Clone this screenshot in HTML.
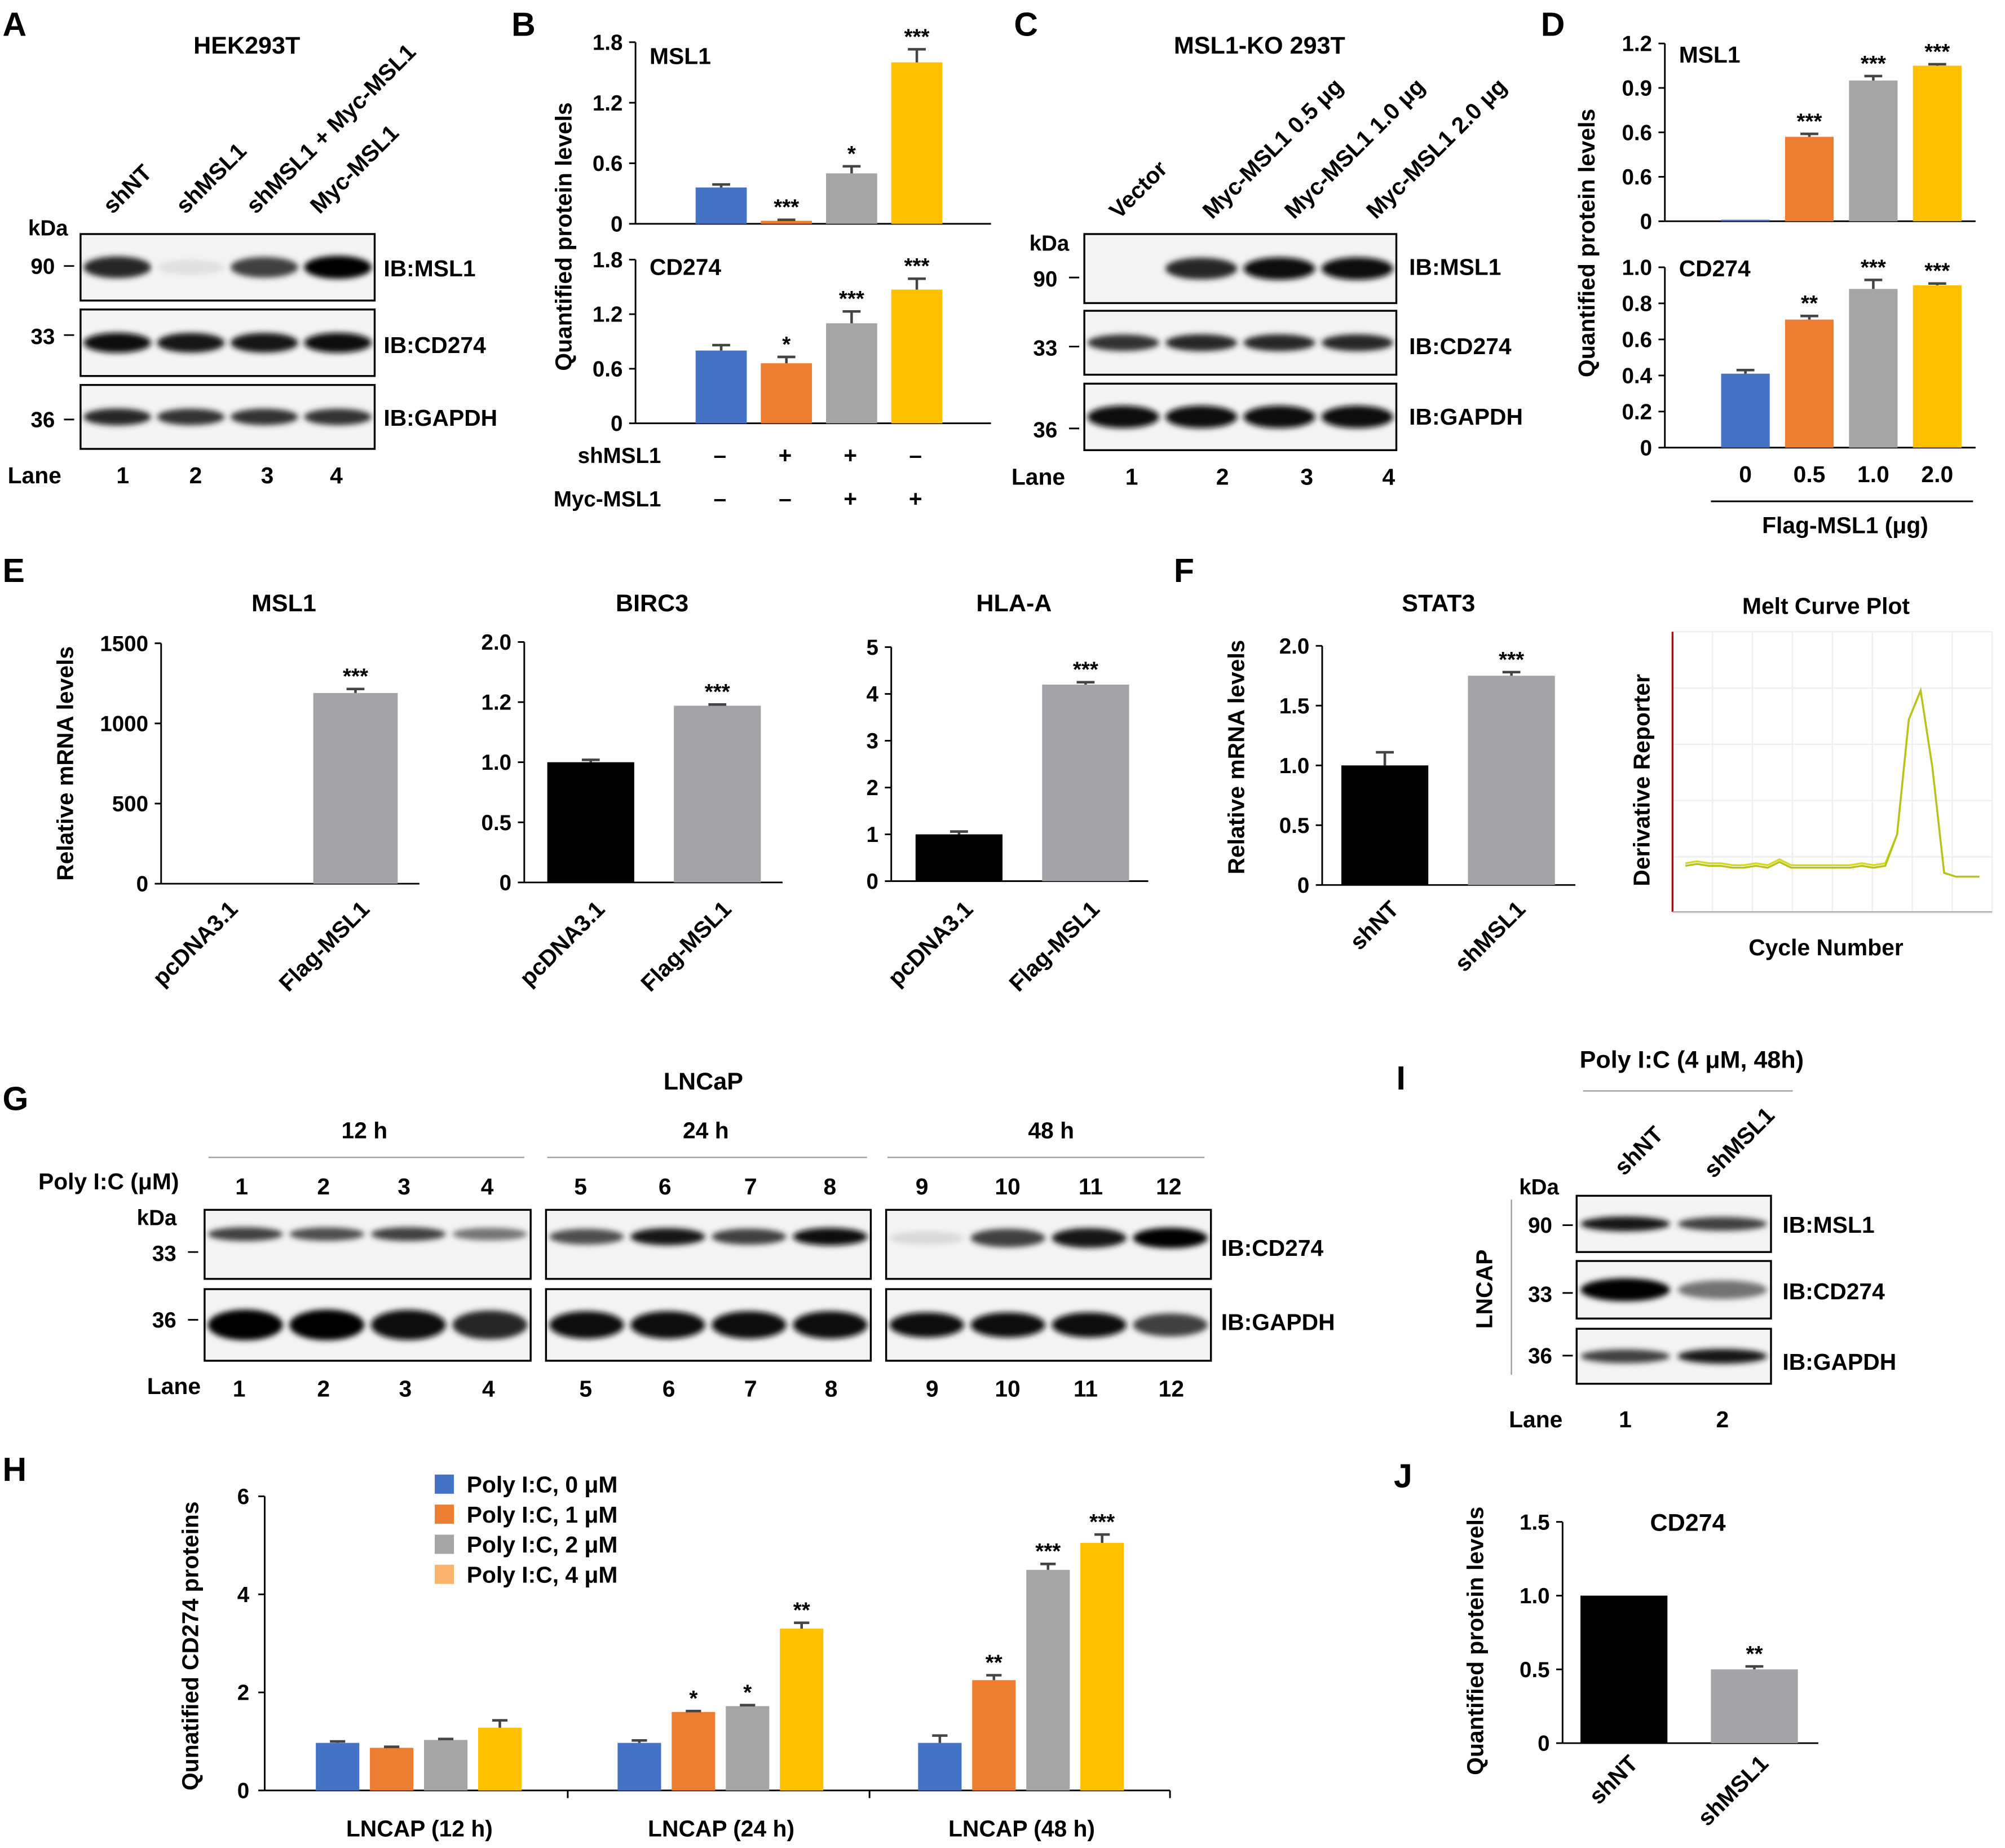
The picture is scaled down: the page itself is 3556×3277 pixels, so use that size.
<!DOCTYPE html>
<html><head><meta charset="utf-8"><style>
html,body{margin:0;padding:0;background:#fff;}
svg{display:block;font-family:"Liberation Sans",Arial,sans-serif;}
text{font-family:"Liberation Sans",Arial,sans-serif;}
</style></head><body>
<svg id="fig" xmlns="http://www.w3.org/2000/svg" width="3556" height="3277" viewBox="0 0 1568 1445" preserveAspectRatio="none">
<defs>
<filter id="blur" x="-20%" y="-50%" width="140%" height="200%"><feGaussianBlur stdDeviation="2.2"/></filter>
</defs>
<g id="root"></g>
</svg>
<script>
// ---------- data ----------
const bCats = ["shNT","shMSL1","shMSL1+Myc","Myc-MSL1"];
const bMSL1 = [0.36, 0.03, 0.5, 1.6];
const bMSL1Err = [0.03, 0.01, 0.07, 0.13];
const bMSL1Sig = ["", "***", "*", "***"];
const bCD274 = [0.8, 0.66, 1.1, 1.47];
const bCD274Err = [0.06, 0.07, 0.13, 0.12];
const bCD274Sig = ["", "*", "***", "***"];
const bTicks = ["0","0.6","1.2","1.8"];

const dCats = ["0","0.5","1.0","2.0"];
const dMSL1 = [0.01, 0.57, 0.95, 1.05];
const dMSL1Err = [0.0, 0.02, 0.03, 0.01];
const dMSL1Sig = ["", "***", "***", "***"];
const dMSL1Ticks = ["0","0.6","0.6","0.9","1.2"];
const dCD274 = [0.41, 0.71, 0.88, 0.9];
const dCD274Err = [0.02, 0.02, 0.05, 0.01];
const dCD274Sig = ["", "**", "***", "***"];
const dCD274Ticks = ["0","0.2","0.4","0.6","0.8","1.0"];

const eCats = ["pcDNA3.1","Flag-MSL1"];
const eMSL1 = [1, 1190];
const eMSL1Err = [0, 25];
const eMSL1Ticks = ["0","500","1000","1500"];
const eBIRC3 = [1.0, 1.47];
const eBIRC3Err = [0.02, 0.01];
const eBIRC3Ticks = ["0","0.5","1.0","1.2","2.0"];
const eHLA = [1.0, 4.2];
const eHLAErr = [0.06, 0.05];
const eHLATicks = ["0","1","2","3","4","5"];

const fCats = ["shNT","shMSL1"];
const fSTAT3 = [1.0, 1.75];
const fSTAT3Err = [0.11, 0.03];
const fTicks = ["0","0.5","1.0","1.5","2.0"];

const hGroups = ["LNCAP (12 h)","LNCAP (24 h)","LNCAP (48 h)"];
const hSeries = ["Poly I:C, 0 \u03bcM","Poly I:C, 1 \u03bcM","Poly I:C, 2 \u03bcM","Poly I:C, 4 \u03bcM"];
const hS0 = [0.97, 0.97, 0.97];
const hS1 = [0.87, 1.6, 2.25];
const hS2 = [1.03, 1.72, 4.5];
const hS3 = [1.28, 3.3, 5.05];
const hE0 = [0.03, 0.05, 0.15];
const hE1 = [0.02, 0.02, 0.1];
const hE2 = [0.02, 0.02, 0.12];
const hE3 = [0.15, 0.12, 0.17];
const hSig1 = ["", "*", "**"];
const hSig2 = ["", "*", "***"];
const hSig3 = ["", "**", "***"];
const hTicks = ["0","2","4","6"];

const jCats = ["shNT","shMSL1"];
const jVals = [1.0, 0.5];
const jErr = [0, 0.02];
const jTicks = ["0","0.5","1.0","1.5"];

// melt curve values (derivative reporter, arbitrary units) at sample points
const meltVals = [0.10,0.11,0.10,0.10,0.09,0.09,0.10,0.09,0.12,0.09,0.09,0.09,0.09,0.09,0.09,0.10,0.09,0.10,0.25,0.85,1.0,0.6,0.05,0.03,0.03,0.03];

const COLORS = ["#4472c4","#ed7d31","#a5a5a5","#ffc000"];
const root = document.getElementById('root');
const NS = "http://www.w3.org/2000/svg";
function el(tag, attrs, parent, txt){
  const e = document.createElementNS(NS, tag);
  for (const k in attrs) e.setAttribute(k, attrs[k]);
  if (txt !== undefined) e.textContent = txt;
  (parent||root).appendChild(e);
  return e;
}
function group(name, parent){
  const g = el('g', {}, parent);
  
  
  return g;
}
function txt(g, x, y, s, size, opts){
  opts = opts||{};
  const t = el('text', {x:x, y:y, 'font-size':size, 'font-weight':opts.w||'bold', 'text-anchor':opts.a||'start', fill:opts.f||'#000'}, g, s);
  if (opts.rot) t.setAttribute('transform', 'rotate('+opts.rot+' '+x+' '+y+')');
  
  
  return t;
}
function line(g,x1,y1,x2,y2,c,w){ return el('line',{x1:x1,y1:y1,x2:x2,y2:y2,stroke:c||'#000','stroke-width':w||1.3},g); }

// generic bar chart
function barChart(name, o){
  const g = group(name);
  const ymap = v => o.y0 - (v / o.vmax) * (o.y0 - o.y1);
  // axis
  const ax = line(g, o.ax, o.y1, o.ax, o.y0, '#000', 1.3);
   
  const xa = line(g, o.ax, o.y0, o.xEnd, o.y0, '#000', 1.3);
   
  o.ticks.forEach((t,i)=>{
    const y = o.y0 - i*(o.y0-o.y1)/(o.ticks.length-1);
    line(g, o.ax-5, y, o.ax, y);
    txt(g, o.ax-10, y+6, t, o.tickSize||17, {a:'end', name:'y-tick-label'});
  });
  o.vals.forEach((v,i)=>{
    const cx = o.x0 + i*o.step;
    const y = ymap(Math.max(v,0));
    const r = el('rect',{x:cx-o.bw/2, y:y, width:o.bw, height:o.y0-y, fill:o.colors[i%o.colors.length]}, g);
    
    
    if (o.err && o.err[i]>0){
      const ye = ymap(v+o.err[i]);
      line(g, cx, y, cx, ye, '#444', 2); line(g, cx-7, ye, cx+7, ye, '#444', 2);
    }
    if (o.sig && o.sig[i]){
      const ye = ymap(v+(o.err?o.err[i]:0));
      txt(g, cx, ye-4, o.sig[i], 17, {a:'middle', name:'significance-mark'});
    }
  });
  return g;
}

// western blot
function blot(name, x, y, w, h, intens, bandH, offs){
  const g = group(name);
  el('rect',{x:x,y:y,width:w,height:h,fill:'#f4f4f4'},g);
  const lw = w/intens.length;
  const bg = el('g',{filter:'url(#blur)'},g);
  intens.forEach((v,i)=>{
    if (v<=0) return;
    const c = Math.round(255*(1-v));
    const e = el('ellipse',{cx:x+lw*(i+0.5), cy:y+h/2+(offs||0), rx:lw*0.46, ry:bandH*(0.6+0.4*v)/2, fill:'rgb('+c+','+c+','+c+')'},bg);
     
  });
  el('rect',{x:x,y:y,width:w,height:h,fill:'none',stroke:'#000','stroke-width':1.5},g);
  return g;
}

// ---------------- Panel A ----------------
(function(){
  const g = group('panel-a');
  txt(g, 2, 28, 'A', 26, {name:'panel-letter'});
  txt(g, 193, 42, 'HEK293T', 19, {a:'middle', name:'cell-line-title'});
  [['shNT',88],['shMSL1',145],['shMSL1 + Myc-MSL1',200],['Myc-MSL1',250]].forEach(([s,x])=>txt(g,x,168,s,18,{rot:-45,name:'lane-header'}));
  txt(g, 22, 184, 'kDa', 17, {name:'kda-label'});
  txt(g, 24, 214, '90', 17); line(g,50,208,58,208);
  txt(g, 24, 269, '33', 17); line(g,50,262,58,262);
  txt(g, 24, 334, '36', 17); line(g,50,328,58,328);
  blot('blot-a-msl1',63,183,230,52,[0.85,0.12,0.75,1.0],18);
  blot('blot-a-cd274',63,242,230,52,[0.95,0.9,0.9,0.95],16);
  blot('blot-a-gapdh',63,301,230,50,[0.85,0.8,0.8,0.8],14);
  txt(g, 300, 216, 'IB:MSL1', 18); txt(g, 300, 276, 'IB:CD274', 18); txt(g, 300, 333, 'IB:GAPDH', 18);
  txt(g, 6, 378, 'Lane', 18); [['1',96],['2',153],['3',209],['4',263]].forEach(([s,x])=>txt(g,x,378,s,18,{a:'middle',name:'lane-number'}));
})();

// ---------------- Panel B ----------------
(function(){
  const g = group('panel-b-labels');
  txt(g, 400, 28, 'B', 26, {name:'panel-letter'});
  txt(g, 447, 185, 'Quantified protein levels', 18, {a:'middle', rot:-90, name:'y-axis-title'});
  txt(g, 508, 50, 'MSL1', 18, {name:'chart-title'});
  txt(g, 508, 215, 'CD274', 18, {name:'chart-title'});
  txt(g, 517, 362, 'shMSL1', 17, {a:'end'});
  txt(g, 517, 396, 'Myc-MSL1', 17, {a:'end'});
  ['\u2013','+','+','\u2013'].forEach((s,i)=>txt(g,563+i*51,362,s,18,{a:'middle',name:'condition-sign'}));
  ['\u2013','\u2013','+','+'].forEach((s,i)=>txt(g,563+i*51,396,s,18,{a:'middle',name:'condition-sign'}));
})();
barChart('chart-b-msl1',{ax:497,y0:175,y1:33,xEnd:775,vmax:1.8,ticks:bTicks,vals:bMSL1,err:bMSL1Err,sig:bMSL1Sig,cats:bCats,x0:564,step:51,bw:40,colors:COLORS});
barChart('chart-b-cd274',{ax:497,y0:331,y1:203,xEnd:775,vmax:1.8,ticks:bTicks,vals:bCD274,err:bCD274Err,sig:bCD274Sig,cats:bCats,x0:564,step:51,bw:40,colors:COLORS});

// ---------------- Panel C ----------------
(function(){
  const g = group('panel-c');
  txt(g, 793, 28, 'C', 26, {name:'panel-letter'});
  txt(g, 985, 42, 'MSL1-KO 293T', 19, {a:'middle', name:'cell-line-title'});
  [['Vector',875],['Myc-MSL1 0.5 \u03bcg',948],['Myc-MSL1 1.0 \u03bcg',1012],['Myc-MSL1 2.0 \u03bcg',1076]].forEach(([s,x])=>txt(g,x,172,s,18,{rot:-45,name:'lane-header'}));
  txt(g, 805, 196, 'kDa', 17);
  txt(g, 808, 224, '90', 17); line(g,836,217,844,217);
  txt(g, 808, 278, '33', 17); line(g,836,271,844,271);
  txt(g, 808, 342, '36', 17); line(g,836,335,844,335);
  blot('blot-c-msl1',848,183,244,54,[0,0.85,0.95,0.95],18);
  blot('blot-c-cd274',848,243,244,50,[0.8,0.85,0.85,0.85],14);
  blot('blot-c-gapdh',848,300,244,52,[0.95,0.95,0.95,0.95],18);
  txt(g, 1102, 215, 'IB:MSL1', 18); txt(g, 1102, 277, 'IB:CD274', 18); txt(g, 1102, 332, 'IB:GAPDH', 18);
  txt(g, 791, 379, 'Lane', 18); [['1',885],['2',956],['3',1022],['4',1086]].forEach(([s,x])=>txt(g,x,379,s,18,{a:'middle',name:'lane-number'}));
})();

// ---------------- Panel D ----------------
(function(){
  const g = group('panel-d-labels');
  txt(g, 1205, 28, 'D', 26, {name:'panel-letter'});
  txt(g, 1247, 190, 'Quantified protein levels', 18, {a:'middle', rot:-90, name:'y-axis-title'});
  txt(g, 1313, 49, 'MSL1', 18, {name:'chart-title'});
  txt(g, 1313, 216, 'CD274', 18, {name:'chart-title'});
  dCats.forEach((s,i)=>txt(g,1365+i*50,377,s,18,{a:'middle',name:'x-tick-label'}));
  line(g,1338,392,1543,392);
  txt(g, 1443, 417, 'Flag-MSL1 (\u03bcg)', 18, {a:'middle', name:'x-axis-title'});
})();
barChart('chart-d-msl1',{ax:1302,y0:173,y1:34,xEnd:1545,vmax:1.2,ticks:dMSL1Ticks,vals:dMSL1,err:dMSL1Err,sig:dMSL1Sig,cats:dCats,x0:1365,step:50,bw:38,colors:COLORS});
barChart('chart-d-cd274',{ax:1302,y0:350,y1:209,xEnd:1545,vmax:1.0,ticks:dCD274Ticks,vals:dCD274,err:dCD274Err,sig:dCD274Sig,cats:dCats,x0:1365,step:50,bw:38,colors:COLORS});

// ---------------- Panel E ----------------
(function(){
  const g = group('panel-e-labels');
  txt(g, 2, 455, 'E', 26, {name:'panel-letter'});
  txt(g, 57, 597, 'Relative mRNA levels', 18, {a:'middle', rot:-90, name:'y-axis-title'});
  txt(g, 222, 478, 'MSL1', 19, {a:'middle', name:'chart-title'});
  txt(g, 510, 478, 'BIRC3', 19, {a:'middle', name:'chart-title'});
  txt(g, 793, 478, 'HLA-A', 19, {a:'middle', name:'chart-title'});
  [[175,278],[462,561],[750,849]].forEach(xs=>{
    xs.forEach((x,i)=>{ txt(g,x+12,712,eCats[i],18,{a:'end',rot:-45,name:'x-tick-label'}); });
  });
})();
barChart('chart-e-msl1',{ax:126,y0:691,y1:503,xEnd:328,vmax:1500,ticks:eMSL1Ticks,vals:eMSL1,err:eMSL1Err,sig:["","***"],cats:eCats,x0:176,step:102,bw:66,colors:["#000","#a3a3a8"]});
barChart('chart-e-birc3',{ax:410,y0:690,y1:502,xEnd:612,vmax:2.0,ticks:eBIRC3Ticks,vals:eBIRC3,err:eBIRC3Err,sig:["","***"],cats:eCats,x0:462,step:99,bw:68,colors:["#000","#a3a3a8"]});
barChart('chart-e-hla',{ax:697,y0:689,y1:506,xEnd:898,vmax:5,ticks:eHLATicks,vals:eHLA,err:eHLAErr,sig:["","***"],cats:eCats,x0:750,step:99,bw:68,colors:["#000","#a3a3a8"]});

// ---------------- Panel F ----------------
(function(){
  const g = group('panel-f-labels');
  txt(g, 918, 455, 'F', 26, {name:'panel-letter'});
  txt(g, 973, 592, 'Relative mRNA levels', 18, {a:'middle', rot:-90, name:'y-axis-title'});
  txt(g, 1125, 478, 'STAT3', 19, {a:'middle', name:'chart-title'});
  fCats.forEach((s,i)=>txt(g,1095+i*99,712,s,18,{a:'end',rot:-45,name:'x-tick-label'}));
})();
barChart('chart-f-stat3',{ax:1034,y0:692,y1:505,xEnd:1232,vmax:2.0,ticks:fTicks,vals:fSTAT3,err:fSTAT3Err,sig:["","***"],cats:fCats,x0:1083,step:99,bw:68,colors:["#000","#a3a3a8"]});

// melt curve
(function(){
  const g = group('melt-curve-plot');
  txt(g, 1428, 480, 'Melt Curve Plot', 18, {a:'middle', name:'chart-title'});
  txt(g, 1290, 610, 'Derivative Reporter', 18, {a:'middle', rot:-90, name:'y-axis-title'});
  txt(g, 1428, 747, 'Cycle Number', 18, {a:'middle', name:'x-axis-title'});
  const x0=1308, x1=1558, y0=690, y1=540;
  for (let i=0;i<=8;i++){ line(g, x0+i*(x1-x0)/8, 494, x0+i*(x1-x0)/8, 713, '#eee', 1); }
  for (let i=0;i<=5;i++){ line(g, x0, 494+i*44, x1, 494+i*44, '#eee', 1); }
  line(g, x0, 494, x0, 713, '#c00', 1.5);
  line(g, x0, 713, x1, 713, '#aaa', 1);
  const xm = i => x0 + 10 + i*(x1-x0-20)/(meltVals.length-1);
  const ym = v => y0 - v*(y0-y1);
  [0,2].forEach(off=>{
    const pts = meltVals.map((v,i)=>xm(i)+','+(ym(v)+(i<18?off:0))).join(' ');
    const p = el('polyline',{points:pts,fill:'none',stroke:off?'#b8c21a':'#d4d82a','stroke-width':1.5},g);
     
  });
})();

// ---------------- Panel G ----------------
(function(){
  const g = group('panel-g');
  txt(g, 2, 868, 'G', 26, {name:'panel-letter'});
  txt(g, 550, 852, 'LNCaP', 19, {a:'middle', name:'cell-line-title'});
  [['12 h',285,163,410],['24 h',552,428,678],['48 h',822,694,942]].forEach(([s,x,a,b])=>{ txt(g,x,890,s,18,{a:'middle',name:'time-label'}); line(g,a,905,b,905,'#999',1); });
  txt(g, 30, 930, 'Poly I:C (\u03bcM)', 18, {name:'row-label'});
  const xs=[189,253,316,381,454,520,587,649,721,788,853,914];
  xs.forEach((x,i)=>{ txt(g,x,934,String((i%4)+1===0?'':[1,2,3,4,5,6,7,8,9,10,11,12][i]),18,{a:'middle',name:'dose-number'}); });
  txt(g, 107, 958, 'kDa', 17);
  txt(g, 119, 986, '33', 17); line(g,147,979,155,979);
  txt(g, 119, 1038, '36', 17); line(g,147,1032,155,1032);
  blot('blot-g-cd274-12h',160,946,255,54,[0.75,0.7,0.75,0.55],12,-8);
  blot('blot-g-cd274-24h',427,946,254,54,[0.7,0.9,0.75,0.95],14,-6);
  blot('blot-g-cd274-48h',693,946,254,54,[0.15,0.75,0.9,1.0],16,-5);
  blot('blot-g-gapdh-12h',160,1008,255,56,[1,1,0.95,0.85],24);
  blot('blot-g-gapdh-24h',427,1008,254,56,[0.95,0.95,0.95,0.95],22);
  blot('blot-g-gapdh-48h',693,1008,254,56,[0.95,0.95,0.95,0.75],20);
  txt(g, 955, 982, 'IB:CD274', 18); txt(g, 955, 1040, 'IB:GAPDH', 18);
  txt(g, 115, 1090, 'Lane', 18);
  const lx=[187,253,317,382,458,523,587,650,729,788,849,916];
  lx.forEach((x,i)=>txt(g,x,1092,String(i+1),18,{a:'middle',name:'lane-number'}));
})();

// ---------------- Panel H ----------------
(function(){
  const g = group('panel-h');
  txt(g, 2, 1158, 'H', 26, {name:'panel-letter'});
  txt(g, 155, 1287, 'Qunatified CD274 proteins', 18, {a:'middle', rot:-90, name:'y-axis-title'});
  const ax=207, y0=1400, y1=1170, vmax=6;
  const ymap = v => y0 - v/vmax*(y0-y1);
  line(g, ax, y1, ax, y0); line(g, ax, y0, 915, y0);
  hTicks.forEach((t,i)=>{ const y=y0-i*(y0-y1)/(hTicks.length-1); line(g,ax-5,y,ax,y); txt(g,ax-12,y+6,t,17,{a:'end',name:'y-tick-label'}); });
  [444,680,915].forEach(x=>line(g,x,y0,x,y0+6));
  const series=[hS0,hS1,hS2,hS3], errs=[hE0,hE1,hE2,hE3], sigs=[null,hSig1,hSig2,hSig3];
  const gx=[264,500,735];
  hGroups.forEach((name,gi)=>{
    txt(g, gx[gi]+64, 1436, name, 18, {a:'middle', name:'x-tick-label'});
    series.forEach((s,si)=>{
      const cx = gx[gi] + si*42.3, v=s[gi], y=ymap(v);
      const r = el('rect',{x:cx-17,y:y,width:34,height:y0-y,fill:COLORS[si]},g);
       
      const ye=ymap(v+errs[si][gi]);
      line(g,cx,y,cx,ye,'#444',2); line(g,cx-6,ye,cx+6,ye,'#444',2);
      if (sigs[si] && sigs[si][gi]) txt(g,cx,ye-4,sigs[si][gi],17,{a:'middle',name:'significance-mark'});
    });
  });
  const lc=["#4472c4","#ed7d31","#a5a5a5","#f8b26a"];
  hSeries.forEach((s,i)=>{
    const y=1160+i*23.5;
    const r=el('rect',{x:340,y:y-7,width:15,height:15,fill:lc[i]},g);
     
    txt(g,365,y+7,s,18,{name:'legend-entry'});
  });
})();

// ---------------- Panel I ----------------
(function(){
  const g = group('panel-i');
  txt(g, 1092, 852, 'I', 26, {name:'panel-letter'});
  txt(g, 1323, 835, 'Poly I:C (4 \u03bcM, 48h)', 19, {a:'middle', name:'treatment-title'});
  line(g,1238,853,1402,853,'#999',1);
  txt(g,1270,920,'shNT',18,{rot:-45,name:'lane-header'});
  txt(g,1340,922,'shMSL1',18,{rot:-45,name:'lane-header'});
  txt(g, 1188, 934, 'kDa', 17);
  txt(g, 1195, 964, '90', 17); line(g,1222,958,1230,958);
  txt(g, 1195, 1018, '33', 17); line(g,1222,1011,1230,1011);
  txt(g, 1195, 1066, '36', 17); line(g,1222,1060,1230,1060);
  line(g,1182,938,1182,1075,'#999',1);
  txt(g, 1167, 1008, 'LNCAP', 18, {a:'middle', rot:-90, name:'cell-line-label'});
  blot('blot-i-msl1',1233,935,152,44,[0.9,0.75],12);
  blot('blot-i-cd274',1233,986,152,45,[1.0,0.55],18);
  blot('blot-i-gapdh',1233,1039,152,43,[0.75,0.9],12);
  txt(g, 1394, 964, 'IB:MSL1', 18); txt(g, 1394, 1016, 'IB:CD274', 18); txt(g, 1394, 1071, 'IB:GAPDH', 18);
  txt(g, 1180, 1116, 'Lane', 18); txt(g,1271,1116,'1',18,{a:'middle'}); txt(g,1347,1116,'2',18,{a:'middle'});
})();

// ---------------- Panel J ----------------
(function(){
  const g = group('panel-j-labels');
  txt(g, 1090, 1163, 'J', 26, {name:'panel-letter'});
  txt(g, 1160, 1283, 'Quantified protein levels', 18, {a:'middle', rot:-90, name:'y-axis-title'});
  txt(g, 1320, 1197, 'CD274', 19, {a:'middle', name:'chart-title'});
  jCats.forEach((s,i)=>txt(g,1282+i*102,1380,s,18,{a:'end',rot:-45,name:'x-tick-label'}));
})();
barChart('chart-j-cd274',{ax:1222,y0:1363,y1:1190,xEnd:1422,vmax:1.5,ticks:jTicks,vals:jVals,err:jErr,sig:["","**"],cats:jCats,x0:1270,step:102,bw:68,colors:["#000","#a3a3a8"]});
</script>
</body></html>
